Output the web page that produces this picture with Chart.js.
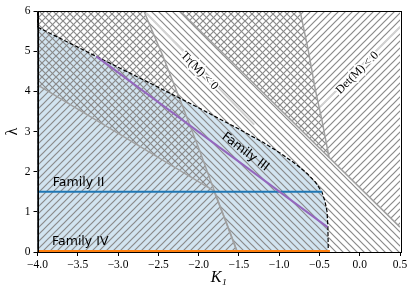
<!DOCTYPE html>
<html>
<head>
<meta charset="utf-8">
<script src="https://cdn.jsdelivr.net/npm/chart.js@4.4.1/dist/chart.umd.min.js"></script>
<style>
  html, body { margin: 0; padding: 0; background: #fff; }
</style>
</head>
<body>
<canvas id="chart" width="415" height="294"></canvas>
<script>
// Axis ticks
const xTicks = [-4.0, -3.5, -3.0, -2.5, -2.0, -1.5, -1.0, -0.5, 0.0, 0.5];
const yTicks = [0, 1, 2, 3, 4, 5, 6];

// Region boundaries, (K1, lambda) pairs
const stableEdge = [[-4.0, 5.60], [-3.5, 5.10], [-3.0, 4.60], [-2.5, 4.10], [-2.0, 3.59], [-1.5, 3.06],
  [-1.2, 2.73], [-1.0, 2.48], [-0.8, 2.20], [-0.65, 1.95], [-0.55, 1.74], [-0.47, 1.50],
  [-0.43, 1.25], [-0.405, 1.0], [-0.395, 0.6], [-0.39, 0.0]];
const edgeL1 = [[-4.0, 4.16], [-1.81, 1.52], [-1.66, 0.75], [-1.52, 0.0]];
const edgeL2 = [[-2.68, 6.0], [-2.45, 4.91], [-2.23, 3.79], [-1.99, 2.54], [-1.81, 1.55], [-1.66, 0.75], [-1.52, 0.0]];
const edgeR = [[-2.23, 6.0], [0.5, 0.62]];
const edgeD = [[-0.74, 6.0], [-0.64, 5.03], [-0.55, 4.03], [-0.47, 3.29], [-0.38, 2.35]];
const trContour = [[-2.65, 5.95], [-1.31, 3.17]];
const detContour = [[-0.49, 3.62], [0.5, 5.6]];

// Solution families
const family2 = [[-4.0, 1.5], [-0.47, 1.5]];
const family3 = [[-3.27, 4.87], [-0.40, 0.62]];
const family4 = [[-4.0, 0.02], [-0.37, 0.02]];

const pts = arr => arr.map(([x, y]) => ({ x, y }));

// closed shapes built from the edges above
const blueRegion = [[-4, 0], ...stableEdge, [-4, 0]];
const backRegion = [[-4, 6], ...edgeD, edgeR[1], [0.5, 0], ...edgeL1.slice().reverse(), [-4, 6]];
const slashRegionA = [[-4, 0], [-4, 6], ...edgeL2, [-4, 0]];
const slashRegionB = [edgeR[0], [0.5, 6], edgeR[1], edgeR[0]];

function hatch(dir) {
    const s = 7;
    const c = document.createElement('canvas');
    c.width = s; c.height = s;
    const g = c.getContext('2d');
    g.strokeStyle = '#8a8a8a';
    g.lineWidth = 1.2;
    g.beginPath();
    if (dir === '/') {
        g.moveTo(-1, s + 1); g.lineTo(s + 1, -1);
        g.moveTo(-1, 1); g.lineTo(1, -1);
        g.moveTo(s - 1, s + 1); g.lineTo(s + 1, s - 1);
    } else {
        g.moveTo(-1, -1); g.lineTo(s + 1, s + 1);
        g.moveTo(s - 1, -1); g.lineTo(s + 1, 1);
        g.moveTo(-1, s - 1); g.lineTo(1, s + 1);
    }
    g.stroke();
    return g.createPattern(c, 'repeat');
}

const slash = hatch('/');
const back = hatch('\\');

function area(data, color, order) {
    return { data: pts(data), fill: 'shape', backgroundColor: color, borderWidth: 0, pointRadius: 0, order: order };
}
function curve(data, color, width, order, dash) {
    return { data: pts(data), fill: false, borderColor: color, borderWidth: width, borderDash: dash || [], pointRadius: 0, order: order };
}

// text labels (data coords)
const notes = [
    { text: 'Family II', at: [-3.81, 1.72], rot: 0, font: '12.5px "DejaVu Sans"', align: 'left' },
    { text: 'Family IV', at: [-3.82, 0.26], rot: 0, font: '12.5px "DejaVu Sans"', align: 'left' },
    { text: 'Family III', at: [-1.42, 2.49], rot: 37, font: '12.5px "DejaVu Sans"', align: 'center' },
    { text: 'Tr(M) < 0', at: [-1.99, 4.51], rot: 46, font: '12px "Liberation Serif"', align: 'center', halo: true },
    { text: 'Det(M) < 0', at: [-0.03, 4.46], rot: -45, font: '12px "Liberation Serif"', align: 'center', halo: true }
];

const notesPlugin = {
    id: 'notes',
    afterDatasetsDraw(chart) {
        const { ctx, scales: { x, y } } = chart;
        notes.forEach(n => {
            ctx.save();
            ctx.translate(x.getPixelForValue(n.at[0]), y.getPixelForValue(n.at[1]));
            ctx.rotate(n.rot * Math.PI / 180);
            ctx.font = n.font;
            ctx.textAlign = n.align;
            ctx.textBaseline = 'middle';
            if (n.halo) {
                ctx.strokeStyle = '#fff';
                ctx.lineWidth = 3;
                ctx.strokeText(n.text, 0, 0);
            }
            ctx.fillStyle = '#000';
            ctx.fillText(n.text, 0, 0);
            ctx.restore();
        });
        // frame
        const a = chart.chartArea;
        ctx.save();
        ctx.strokeStyle = '#000';
        ctx.lineWidth = 1;
        ctx.strokeRect(Math.round(a.left) + 0.5, Math.round(a.top) + 0.5, Math.round(a.right - a.left), Math.round(a.bottom - a.top));
        ctx.restore();
    }
};

const fmt = v => (v < 0 ? '\u2212' : '') + Math.abs(v).toFixed(1);

new Chart(document.getElementById('chart'), {
    type: 'scatter',
    data: {
        datasets: [
            curve(family4, '#ff7f0e', 2.5, 1),
            curve(family3, '#9467bd', 2, 2),
            curve(family2, '#1f77b4', 2, 3),
            curve(stableEdge, '#000', 1.2, 4, [4, 2]),
            curve(trContour, '#d2d2d2', 2, 5),
            curve(detContour, '#d2d2d2', 2, 5),
            curve(edgeL1, '#a0a0a0', 1.5, 6),
            curve(edgeL2, '#a0a0a0', 1.5, 6),
            curve(edgeR, '#a0a0a0', 1.5, 6),
            curve(edgeD, '#a0a0a0', 1.5, 6),
            area(slashRegionB, slash, 7),
            area(slashRegionA, slash, 8),
            area(backRegion, back, 9),
            area(blueRegion, 'rgb(210,228,240)', 10)
        ]
    },
    options: {
        responsive: false,
        devicePixelRatio: 1,
        animation: false,
        showLine: true,
        layout: { padding: { left: 0, right: 15, top: 11, bottom: 0 } },
        plugins: { legend: { display: false }, tooltip: { enabled: false } },
        scales: {
            x: {
                type: 'linear', min: -4, max: 0.5,
                afterBuildTicks: s => { s.ticks = xTicks.map(v => ({ value: v })); },
                afterFit: s => { s.height = 42; },
                ticks: { callback: v => fmt(v), color: '#000', padding: 2, maxRotation: 0,
                    font: { family: 'Liberation Serif', size: 11.5 } },
                grid: { display: true, drawOnChartArea: false, drawTicks: true, tickLength: 4, color: '#000' },
                border: { display: true, color: '#000', width: 1 },
                title: { display: true, text: 'K\u2081', color: '#000', padding: { top: 0, bottom: 7 },
                    font: { family: 'Liberation Serif', size: 16, style: 'italic' } }
            },
            y: {
                type: 'linear', min: 0, max: 6,
                afterBuildTicks: s => { s.ticks = yTicks.map(v => ({ value: v })); },
                afterFit: s => { s.width = 37.5; },
                ticks: { callback: v => String(v), color: '#000', padding: 3,
                    font: { family: 'Liberation Serif', size: 11.5 } },
                grid: { display: true, drawOnChartArea: false, drawTicks: true, tickLength: 4, color: '#000' },
                border: { display: true, color: '#000', width: 1 },
                title: { display: true, text: '\u03bb', color: '#000', padding: { top: 3, bottom: 0 },
                    font: { family: 'Liberation Serif', size: 16 } }
            }
        }
    },
    plugins: [notesPlugin]
});
</script>
</body>
</html>
